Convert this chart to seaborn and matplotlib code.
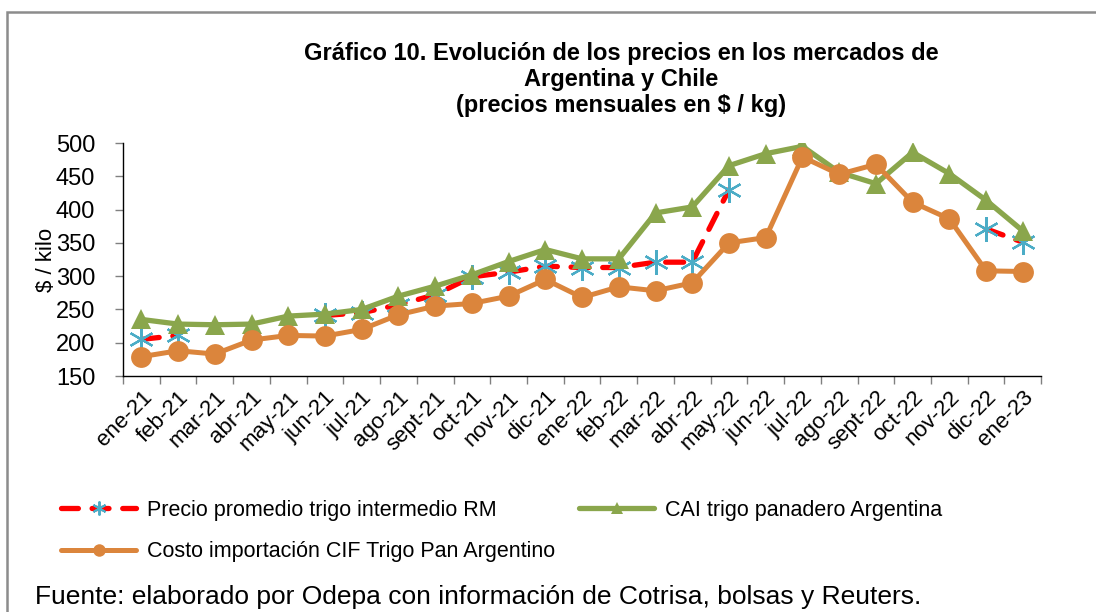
import numpy as np
import pandas as pd
import matplotlib
matplotlib.use("Agg")
import matplotlib.pyplot as plt
from matplotlib.lines import Line2D
from matplotlib.patches import Rectangle
import seaborn as sns

months = ["ene-21", "feb-21", "mar-21", "abr-21", "may-21", "jun-21", "jul-21",
          "ago-21", "sept-21", "oct-21", "nov-21", "dic-21", "ene-22", "feb-22",
          "mar-22", "abr-22", "may-22", "jun-22", "jul-22", "ago-22", "sept-22",
          "oct-22", "nov-22", "dic-22", "ene-23"]

precio_rm = [205, 211, np.nan, np.nan, np.nan, 241, 245, 257, 272, 299, 306, 315,
             313, 313, 321, 321, 430, np.nan, np.nan, np.nan, np.nan, np.nan,
             np.nan, 371, 351]
cai_arg = [235, 228, 227, 228, 240, 243, 250, 270, 285, 302, 322, 340,
           326, 326, 395, 404, 466, 484, 495, 456, 439, 486, 454, 414, 368]
cif_arg = [179, 188, 183, 204, 211, 210, 220, 242, 255, 259, 270, 295,
           268, 284, 278, 290, 350, 358, 479, 453, 468, 411, 386, 308, 307]

lab_rm = "Precio promedio trigo intermedio RM"
lab_cai = "CAI trigo panadero Argentina"
lab_cif = "Costo importación CIF Trigo Pan Argentino"

c_red = "#FF0000"
c_star = "#4BACC6"
c_green = "#8AA64C"
c_orange = "#DB853C"

sns.set_style("white")
plt.rcParams["font.family"] = ["Liberation Sans", "DejaVu Sans"]
plt.rcParams["text.color"] = "black"
plt.rcParams["xtick.color"] = "black"
plt.rcParams["ytick.color"] = "black"

x = np.arange(len(months))
df = pd.DataFrame({"x": x, "rm": precio_rm, "cai": cai_arg, "cif": cif_arg})
# tramos continuos del precio RM (se corta donde no hay dato)
df["seg"] = df["rm"].isna().cumsum()
rm = df.dropna(subset=["rm"])

fig = plt.figure(figsize=(10.96, 6.12), dpi=100)
ax = fig.add_axes([0.1122, 0.3856, 0.8378, 0.3807])

star = (6, 2, 0)
sns.lineplot(data=rm, x="x", y="rm", units="seg", estimator=None, ax=ax,
             color=c_red, lw=3.8, linestyle=(0, (3.4, 2.6)),
             dash_capstyle="round", marker=star, markersize=18,
             markeredgecolor=c_star, markerfacecolor=c_star,
             markeredgewidth=1.6, zorder=2)
sns.lineplot(data=df, x="x", y="cai", ax=ax, color=c_green, lw=3.8,
             marker="^", markersize=15, markeredgewidth=0, zorder=3)
sns.lineplot(data=df, x="x", y="cif", ax=ax, color=c_orange, lw=3.6,
             marker="o", markersize=15, markeredgewidth=0, zorder=4)

ax.set_xlim(-0.5, len(months) - 0.5)
ax.set_ylim(150, 500)
ax.set_yticks(range(150, 501, 50))
ax.tick_params(axis="y", labelsize=17, length=6, width=1, color="#808080",
               labelcolor="black", direction="out", left=True, pad=14)
ax.set_xticks(x)
ax.set_xticklabels(months, rotation=45, ha="right", rotation_mode="anchor",
                   fontsize=16)
ax.set_xticks(np.arange(-0.5, len(months), 1), minor=True)
ax.tick_params(axis="x", which="major", length=0, pad=8, labelcolor="black")
ax.tick_params(axis="x", which="minor", length=6, width=1, color="#808080",
               direction="out", bottom=True)
ax.set_xlabel("")
ax.set_ylabel("$ / kilo", fontsize=16, color="black")
ax.yaxis.set_label_coords(-0.072, 0.5)
for side in ["top", "right"]:
    ax.spines[side].set_visible(False)
for side in ["left", "bottom"]:
    ax.spines[side].set_color("black")
    ax.spines[side].set_linewidth(1)

fig.text(0.567, 0.87,
         "Gráfico 10. Evolución de los precios en los mercados de\n"
         "Argentina y Chile\n(precios mensuales en $ / kg)",
         ha="center", va="center", fontsize=17, fontweight="bold",
         linespacing=1.16)

handles = [
    Line2D([], [], color=c_red, lw=3.8, linestyle=(0, (3.2, 2.6)),
           dash_capstyle="round", marker=star, markersize=10,
           markeredgecolor=c_star, markeredgewidth=1.4),
    Line2D([], [], color=c_orange, lw=3.6, marker="o", markersize=9,
           markeredgewidth=0),
    Line2D([], [], color=c_green, lw=3.8, marker="^", markersize=8,
           markeredgewidth=0),
]
fig.legend(handles, [lab_rm, lab_cif, lab_cai], ncol=2, frameon=False,
           loc="center left", bbox_to_anchor=(0.038, 0.132),
           fontsize=15.5, handlelength=3.5, handletextpad=0.5,
           columnspacing=1.1, labelspacing=0.95)

fig.text(0.032, 0.024,
         "Fuente: elaborado por Odepa con información de Cotrisa, bolsas y Reuters.",
         ha="left", va="center", fontsize=19)

fig.patches.append(Rectangle((0.0068, -0.2), 1.5, 0.2 + 0.980,
                             transform=fig.transFigure, fill=False,
                             edgecolor="#8C8C8C", lw=1.8))

fig.savefig("out.png", dpi=100)
